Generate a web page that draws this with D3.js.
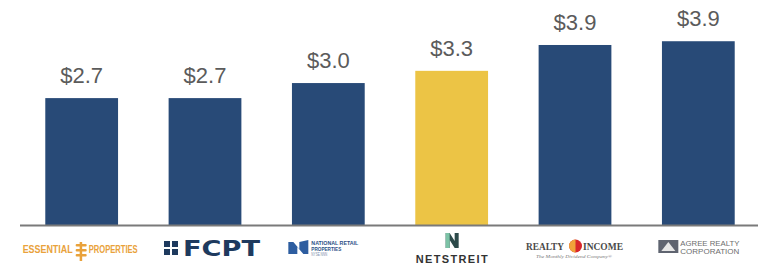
<!DOCTYPE html>
<html>
<head>
<meta charset="utf-8">
<script src="https://cdn.jsdelivr.net/npm/d3@7.9.0/dist/d3.min.js"></script>
<style>
  html, body { margin: 0; padding: 0; background: #fff; }
  svg { display: block; font-family: "Liberation Sans", Arial, sans-serif; }
</style>
</head>
<body>
<svg id="chart" width="761" height="265"></svg>
<script>
// ---------- Data ----------
const companies = ['Essential Properties', 'FCPT', 'National Retail Properties', 'NETSTREIT', 'Realty Income', 'Agree Realty'];
const values = [2.70, 2.70, 3.02, 3.28, 3.83, 3.91];
const labels = ['$2.7', '$2.7', '$3.0', '$3.3', '$3.9', '$3.9'];
const highlight = 'NETSTREIT';

// ---------- Layout ----------
const width = 761, height = 265;
const baseY = 225;
const svg = d3.select('#chart');

const x = d3.scaleBand()
  .domain(companies)
  .range([20, 760])
  .paddingInner(0.41)
  .paddingOuter(0.205);

const y = d3.scaleLinear()
  .domain([0, 4])
  .range([baseY, baseY - 4 * 47]);

const rows = companies.map((c, i) => ({ name: c, value: values[i], label: labels[i] }));

// Bars
svg.append('g')
  .selectAll('rect')
  .data(rows)
  .join('rect')
  .attr('x', (d) => x(d.name))
  .attr('y', (d) => y(d.value))
  .attr('width', x.bandwidth())
  .attr('height', (d) => y(0) - y(d.value))
  .attr('fill', (d) => (d.name === highlight ? '#ecc445' : '#284a77'));

// Value labels
svg.append('g')
  .selectAll('text')
  .data(rows)
  .join('text')
  .attr('x', (d) => x(d.name) + x.bandwidth() / 2)
  .attr('y', (d) => y(d.value) - 15)
  .attr('text-anchor', 'middle')
  .attr('font-size', 22)
  .attr('fill', '#5b5b5b')
  .text((d) => d.label);

// Baseline
svg.append('line')
  .attr('x1', 20).attr('x2', 758)
  .attr('y1', baseY + 0.5).attr('y2', baseY + 0.5)
  .attr('stroke', '#7a7a7a')
  .attr('stroke-width', 2);

// ---------- Company "logos" (as text + simple shapes) ----------
const logos = svg.append('g');
const cx = (name) => x(name) + x.bandwidth() / 2;

// Essential Properties
{
  const g = logos.append('g').attr('fill', '#e9a23b');
  const c = cx('Essential Properties');
  g.append('text').attr('x', c - 59).attr('y', 253).attr('font-size', 10).attr('font-weight', 'bold')
    .attr('textLength', 50).attr('lengthAdjust', 'spacingAndGlyphs').text('ESSENTIAL');
  g.append('text').attr('x', c + 7).attr('y', 253).attr('font-size', 10).attr('font-weight', 'bold')
    .attr('textLength', 49).attr('lengthAdjust', 'spacingAndGlyphs').text('PROPERTIES');
  g.append('rect').attr('x', c - 2).attr('y', 242).attr('width', 2.5).attr('height', 19);
  [244, 249, 254].forEach((yy) => {
    g.append('rect').attr('x', c - 6).attr('y', yy).attr('width', 11).attr('height', 2.5).attr('rx', 1);
  });
}

// FCPT
{
  const g = logos.append('g').attr('fill', '#1e3a5e');
  const c = cx('FCPT');
  const ix = c - 41, iy = 241;
  [[0, 0], [8, 0], [0, 8], [8, 8]].forEach(([dx, dy]) => {
    g.append('rect').attr('x', ix + dx).attr('y', iy + dy).attr('width', 6).attr('height', 6);
  });
  g.append('text').attr('x', c - 22).attr('y', 256).attr('font-size', 21).attr('font-weight', 'bold')
    .attr('font-family', '"DejaVu Sans", sans-serif')
    .attr('textLength', 77).attr('lengthAdjust', 'spacingAndGlyphs').text('FCPT');
}

// National Retail Properties
{
  const g = logos.append('g').attr('fill', '#2b4f86');
  const c = cx('National Retail Properties');
  const ix = c - 40;
  g.append('path').attr('d', `M${ix},254 L${ix},242 L${ix + 5},242 L${ix + 11},249 L${ix + 11},242 L${ix + 20},240 L${ix + 20},254 L${ix + 15},254 L${ix + 9},247 L${ix + 9},254 Z`)
    .attr('fill', '#2d5da0');
  g.append('text').attr('x', c - 17).attr('y', 245).attr('font-size', 6).attr('font-weight', 'bold')
    .attr('textLength', 47).attr('lengthAdjust', 'spacingAndGlyphs').text('NATIONAL RETAIL');
  g.append('text').attr('x', c - 17).attr('y', 250.5).attr('font-size', 6).attr('font-weight', 'bold')
    .attr('textLength', 30).attr('lengthAdjust', 'spacingAndGlyphs').text('PROPERTIES');
  g.append('text').attr('x', c - 17).attr('y', 256).attr('font-size', 4.5).attr('fill', '#7a8aa8')
    .attr('textLength', 16).attr('lengthAdjust', 'spacingAndGlyphs').text('NYSE NNN');
}

// NETSTREIT
{
  const g = logos.append('g');
  const c = cx('NETSTREIT');
  g.append('path').attr('d', `M${c - 6},248 L${c - 6},233 L${c - 2},233 L${c + 3},241 L${c + 3},233 L${c + 7},233 L${c + 7},248 L${c + 3},248 L${c - 2},240 L${c - 2},248 Z`)
    .attr('fill', '#2c4a4a');
  g.append('rect').attr('x', c - 6).attr('y', 233).attr('width', 4).attr('height', 15).attr('fill', '#7cc3a6');
  g.append('text').attr('x', c).attr('y', 263).attr('text-anchor', 'middle').attr('font-size', 11).attr('font-weight', 'bold')
    .attr('fill', '#333').attr('textLength', 72).attr('lengthAdjust', 'spacing').text('NETSTREIT');
}

// Realty Income
{
  const g = logos.append('g').attr('fill', '#4a4a4a').attr('font-family', '"Liberation Serif", serif').attr('font-weight', 'bold');
  const c = cx('Realty Income');
  g.append('text').attr('x', c - 49).attr('y', 250).attr('font-size', 10.5)
    .attr('textLength', 38).attr('lengthAdjust', 'spacingAndGlyphs').text('REALTY');
  g.append('text').attr('x', c + 8).attr('y', 250).attr('font-size', 10.5)
    .attr('textLength', 40).attr('lengthAdjust', 'spacingAndGlyphs').text('INCOME');
  g.append('circle').attr('cx', c + 0.5).attr('cy', 246).attr('r', 6.5).attr('fill', '#d8262b');
  g.append('path').attr('d', `M${c + 0.5},239.5 A6.5,6.5 0 0,0 ${c + 0.5},252.5 Z`).attr('fill', '#f0a23a');
  g.append('text').attr('x', c - 39).attr('y', 258).attr('font-size', 4.5).attr('font-weight', 'normal')
    .attr('fill', '#777').attr('font-style', 'italic')
    .attr('textLength', 76).attr('lengthAdjust', 'spacingAndGlyphs').text('The Monthly Dividend Company®');
}

// Agree Realty
{
  const g = logos.append('g').attr('fill', '#6d6d6d');
  const c = cx('Agree Realty');
  g.append('rect').attr('x', c - 40).attr('y', 240).attr('width', 20).attr('height', 13).attr('fill', '#5f6470');
  g.append('path').attr('d', `M${c - 37},251 L${c - 30},242 L${c - 23},251 Z`).attr('fill', '#e6e6e6');
  g.append('text').attr('x', c - 18).attr('y', 246).attr('font-size', 7.5)
    .attr('textLength', 59).attr('lengthAdjust', 'spacingAndGlyphs').text('AGREE REALTY');
  g.append('text').attr('x', c - 18).attr('y', 253.5).attr('font-size', 7.5)
    .attr('textLength', 59).attr('lengthAdjust', 'spacingAndGlyphs').text('CORPORATION');
}
</script>
</body>
</html>
